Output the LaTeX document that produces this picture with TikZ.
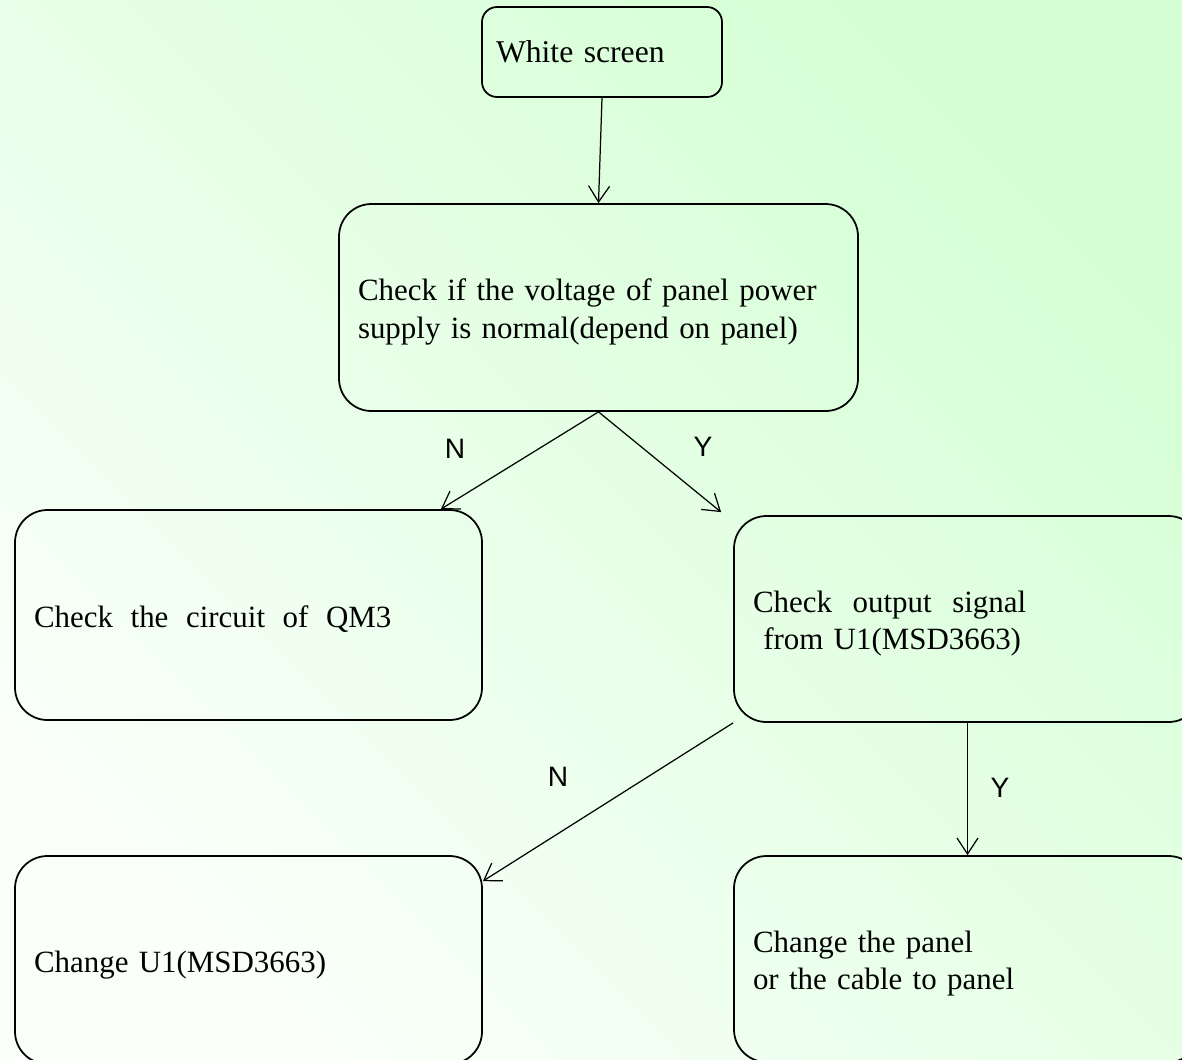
\documentclass[tikz,border=0pt]{standalone}
\usepackage{fontspec}
\setmainfont{Liberation Serif}
\newfontfamily\labelfont{Liberation Sans}
\usetikzlibrary{arrows.meta}

\definecolor{bgdark}{RGB}{212,255,212}
\definecolor{bglight}{RGB}{250,255,250}

\newcommand{\gap}{\hskip0.57em\relax}

\begin{document}
\begin{tikzpicture}
    % Styles
    \tikzset{
        box/.style={draw, line width=1pt, rounded corners=0.65cm, align=left, inner xsep=0.38cm, inner ysep=0pt,
            font=\fontsize{17.6}{21.5}\selectfont},
        bigbox/.style={box, text width=8.58cm, execute at begin node={\rule{0pt}{17.5pt}}},
        flow/.style={line width=0.7pt, >={Straight Barb[length=0.32cm, width=0.42cm]}, ->},
        answer/.style={font=\labelfont\fontsize{16}{18}\selectfont}
    }

    % Page and background
    \useasboundingbox (0,0) rectangle (23.64,-21.18);
    \clip (0,0) rectangle (23.64,-21.18);
    \shade[top color=bgdark, bottom color=bglight, shading angle=-45] (0,0) rectangle (23.64,-21.18);

    % Boxes
    \node[box, rounded corners=0.3cm, inner xsep=0.28cm, text width=4.24cm, minimum height=1.8cm,
        font=\fontsize{18}{21.5}\selectfont] (white) at (12.04,-1.04) {White screen};
    \node[bigbox, text width=9.62cm, minimum height=4.14cm] (volt) at (11.97,-6.15)
        {Check if the voltage of panel power\\supply is normal(depend on panel)};
    \node[bigbox, minimum height=4.2cm] (qm3) at (4.97,-12.3)
        {Check\gap the\gap circuit\gap of\gap QM3};
    \node[bigbox, minimum height=4.12cm] (signal) at (19.35,-12.38)
        {Check\ \ output\ \ signal\\\ from U1(MSD3663)};
    \node[bigbox, minimum height=4.16cm] (chip) at (4.97,-19.2)
        {Change U1(MSD3663)};
    \node[bigbox, minimum height=4.12cm] (panel) at (19.35,-19.18)
        {Change the panel\\or the cable to panel};

    % Connectors
    \draw[flow] (white.south) -- (volt.north);
    \draw[flow] (volt.south) -- ([xshift=-0.84cm]qm3.north east);
    \draw[flow] (volt.south) -- ([xshift=-0.24cm, yshift=0.06cm]signal.north west);
    \draw[flow] (signal.south west) -- ([yshift=-0.52cm]chip.north east);
    \draw[flow] (signal.south) -- (panel.north);

    % Answers
    \node[answer] (n1) at (9.10,-8.98) {N};
    \node[answer] (y1) at (14.06,-8.94) {Y};
    \node[answer] (n2) at (11.16,-15.54) {N};
    \node[answer] (y2) at (20.00,-15.76) {Y};

\end{tikzpicture}
\end{document}
